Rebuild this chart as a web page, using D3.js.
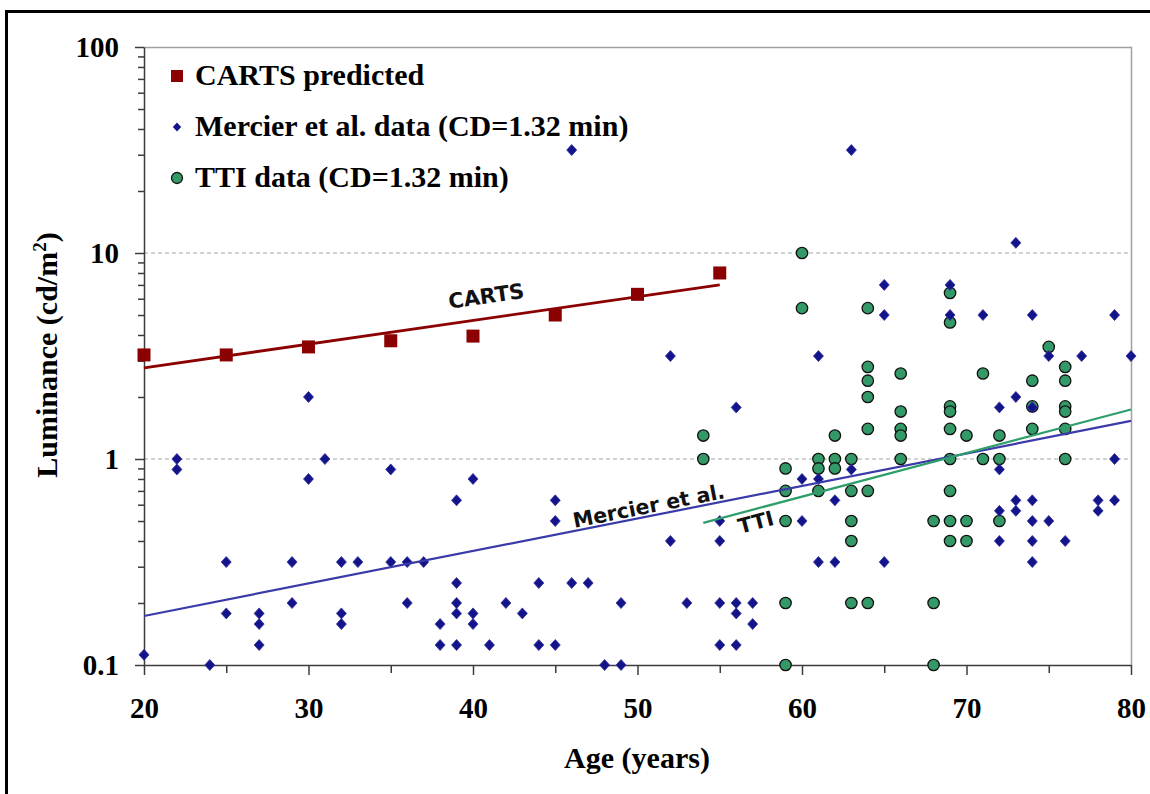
<!DOCTYPE html>
<html>
<head>
<meta charset="utf-8">
<script src="https://cdn.jsdelivr.net/npm/d3@7"></script>
<style>
  body { margin: 0; background: #fff; }
  svg { display: block; }
</style>
</head>
<body>
<svg id="chart"></svg>
<script>
    var width = 1150,
        height = 794;

// data

    var cartsData = [[20,3.2],[25,3.2],[30,3.5],[35,3.75],[40,3.95],[45,5.0],[50,6.3],[55,8.0]];

    var mercierData = [
        [20,0.112],[22,1.0],[22,0.89],[24,0.1],[25,0.316],[25,0.178],
        [27,0.178],[27,0.158],[27,0.125],[29,0.316],[29,0.2],[30,2.0],[30,0.8],
        [31,1.0],[32,0.316],[32,0.178],[32,0.158],[33,0.316],[35,0.89],[35,0.316],
        [36,0.316],[36,0.2],[37,0.316],[38,0.158],[38,0.125],
        [39,0.63],[39,0.25],[39,0.2],[39,0.178],[39,0.125],
        [40,0.8],[40,0.178],[40,0.158],[41,0.125],[42,0.2],[43,0.178],
        [44,0.25],[44,0.125],[45,0.63],[45,0.5],[45,0.125],[46,31.6],[46,0.25],
        [47,0.25],[48,0.1],[49,0.2],[49,0.1],[52,3.16],[52,0.4],[53,0.2],
        [55,0.5],[55,0.4],[55,0.2],[55,0.125],[56,1.78],[56,0.2],[56,0.178],[56,0.125],
        [57,0.2],[57,0.158],[60,0.8],[60,0.5],[61,3.16],[61,0.8],[61,0.316],
        [62,0.63],[62,0.316],[63,31.6],[63,0.89],[65,7.0],[65,5.0],[65,0.316],
        [69,7.0],[69,5.0],[71,5.0],[72,1.78],[72,0.89],[72,0.56],[72,0.4],
        [73,11.2],[73,2.0],[73,0.63],[73,0.56],
        [74,5.0],[74,1.78],[74,0.63],[74,0.5],[74,0.4],[74,0.316],
        [75,3.16],[75,0.5],[76,0.4],[77,3.16],[78,0.63],[78,0.56],
        [79,5.0],[79,1.0],[79,0.63],[80,3.16]
    ];

    var ttiData = [
        [54,1.3],[54,1.0],[59,0.9],[59,0.7],[59,0.5],[59,0.2],[59,0.1],
        [60,10],[60,5.4],[61,1.0],[61,0.9],[61,0.7],[62,1.3],[62,1.0],[62,0.9],
        [63,1.0],[63,0.7],[63,0.5],[63,0.4],[63,0.2],
        [64,5.4],[64,2.8],[64,2.4],[64,2.0],[64,1.4],[64,0.7],[64,0.2],
        [66,2.6],[66,1.7],[66,1.4],[66,1.3],[66,1.0],[68,0.5],[68,0.2],[68,0.1],
        [69,6.4],[69,4.6],[69,1.8],[69,1.7],[69,1.4],[69,1.0],[69,0.7],[69,0.5],[69,0.4],
        [70,1.3],[70,0.5],[70,0.4],[71,2.6],[71,1.0],[72,1.3],[72,1.0],[72,0.5],
        [74,2.4],[74,1.8],[74,1.4],[75,3.5],
        [76,2.8],[76,2.4],[76,1.8],[76,1.7],[76,1.4],[76,1.0]
    ];

    // exponential trend lines (straight on the log axis): [age, luminance] at each end
    var trendNames = ["CARTS", "Mercier et al.", "TTI"];
    var trendStart = [[20,2.77],[20,0.173],[54,0.49]];
    var trendEnd   = [[55,7.0],[80,1.53],[80,1.74]];
    var trendLabelAge = [41.0, 50.8, 57.0];

    var legendLabels = ["CARTS predicted", "Mercier et al. data (CD=1.32 min)", "TTI data (CD=1.32 min)"];

    var xTicks = [20,30,40,50,60,70,80];
    var xMinorTicks = [25,35,45,55,65,75];
    var yTicks = [0.1,1,10,100];

// colours
    var cartsColor = "#8b0000",
        mercierColor = "#14148a",
        mercierLine = "#3a3aa8",
        ttiFill = "#339966",
        ttiLine = "#2e9e6a";

    var margin = {top: 47, right: 19, bottom: 129, left: 144};
    var plotW = width - margin.left - margin.right,
        plotH = height - margin.top - margin.bottom;

    var svg = d3.select("#chart").attr("width", width).attr("height", height);

    // outer black frame (runs off the right and bottom of the picture)
    svg.append("rect")
        .attr("x", 6.5).attr("y", 11.5)
        .attr("width", width + 20).attr("height", height + 20)
        .attr("fill", "none").attr("stroke", "#000").attr("stroke-width", 3);

    var x = d3.scaleLinear().domain([20, 80]).range([0, plotW]);
    var y = d3.scaleLog().domain([0.1, 100]).range([plotH, 0]);

    var g = svg.append("g").attr("transform", "translate(" + margin.left + "," + margin.top + ")");

    var serif = "'Liberation Serif','Times New Roman',serif";

    // plot area border (top + right) and dashed gridlines
    g.append("path")
        .attr("d", "M0,0.5H" + (plotW + 0.5) + "V" + plotH)
        .attr("fill", "none").attr("stroke", "#a0a0a0").attr("stroke-width", 1.5);

    g.selectAll(".grid").data([1, 10]).enter().append("line")
        .attr("x1", 0).attr("x2", plotW)
        .attr("y1", function (d) { return y(d); })
        .attr("y2", function (d) { return y(d); })
        .attr("stroke", "#a8a8a8").attr("stroke-width", 1.2)
        .attr("stroke-dasharray", "4,3");

    // minor ticks
    var yMinor = [];
    [0.1, 1, 10].forEach(function (p) {
        for (var k = 2; k <= 9; k++) yMinor.push(p * k);
    });
    g.append("g")
        .call(d3.axisLeft(y).tickValues(yMinor).tickSize(6).tickFormat(""))
        .call(function (a) { a.select(".domain").remove(); });
    g.append("g")
        .attr("transform", "translate(0," + plotH + ")")
        .call(d3.axisBottom(x).tickValues(xMinorTicks).tickSize(8).tickFormat(""))
        .call(function (a) { a.select(".domain").remove(); });

    // major axes
    var xAxis = g.append("g")
        .attr("transform", "translate(0," + plotH + ")")
        .call(d3.axisBottom(x).tickValues(xTicks).tickSize(10).tickSizeOuter(0).tickFormat(d3.format("d")));
    xAxis.selectAll("text")
        .attr("y", 53).attr("dy", 0);

    var yAxis = g.append("g")
        .call(d3.axisLeft(y).tickValues(yTicks).tickSize(9).tickSizeOuter(0)
            .tickFormat(function (d) { return d < 1 ? "0.1" : d3.format("d")(d); }));
    yAxis.selectAll("text")
        .attr("x", -25).attr("dy", "0.34em");

    svg.selectAll(".tick line, .domain")
        .attr("stroke", "#3c3c3c").attr("stroke-width", 1.5);
    svg.selectAll(".tick text")
        .attr("fill", "#000")
        .style("font-family", serif)
        .style("font-weight", "bold")
        .style("font-size", "29px");

    // axis titles
    svg.append("text")
        .attr("x", 637).attr("y", 768)
        .attr("text-anchor", "middle")
        .style("font-family", serif).style("font-weight", "bold").style("font-size", "30px")
        .text("Age (years)");

    var yTitle = svg.append("text")
        .attr("transform", "translate(57,355) rotate(-90)")
        .attr("text-anchor", "middle")
        .style("font-family", serif).style("font-weight", "bold").style("font-size", "30px");
    yTitle.append("tspan").text("Luminance (cd/m");
    yTitle.append("tspan").attr("dy", -11).style("font-size", "19px").text("2");
    yTitle.append("tspan").attr("dy", 11).text(")");

    // markers
    var diamond = "M0,-5.5L5,0L0,5.5L-5,0Z";

    g.selectAll(".tti").data(ttiData).enter().append("circle")
        .attr("cx", function (d) { return x(d[0]); })
        .attr("cy", function (d) { return y(d[1]); })
        .attr("r", 5.7)
        .attr("fill", ttiFill).attr("stroke", "#111").attr("stroke-width", 1.3);

    g.selectAll(".mercier").data(mercierData).enter().append("path")
        .attr("d", diamond)
        .attr("transform", function (d) { return "translate(" + x(d[0]) + "," + y(d[1]) + ")"; })
        .attr("fill", mercierColor).attr("stroke", "#2e2e9e").attr("stroke-width", 0.8);

    g.selectAll(".carts").data(cartsData).enter().append("rect")
        .attr("x", function (d) { return x(d[0]) - 6.5; })
        .attr("y", function (d) { return y(d[1]) - 6.5; })
        .attr("width", 13).attr("height", 13)
        .attr("fill", cartsColor);

    // trend lines with their labels
    var trendColors = [cartsColor, mercierLine, ttiLine];
    var trendWidths = [2.8, 2.2, 2.2];
    var labelShift = [-15, -3, 20];

    trendNames.forEach(function (name, i) {
        var x0 = x(trendStart[i][0]), y0 = y(trendStart[i][1]),
            x1 = x(trendEnd[i][0]), y1 = y(trendEnd[i][1]);
        g.append("line")
            .attr("x1", x0).attr("y1", y0).attr("x2", x1).attr("y2", y1)
            .attr("stroke", trendColors[i]).attr("stroke-width", trendWidths[i]);

        var angle = Math.atan2(y1 - y0, x1 - x0) * 180 / Math.PI;
        var lx = x(trendLabelAge[i]);
        var ly = y0 + (y1 - y0) * (lx - x0) / (x1 - x0);
        g.append("text")
            .attr("transform", "translate(" + lx + "," + ly + ") rotate(" + angle + ")")
            .attr("y", labelShift[i])
            .attr("text-anchor", "middle")
            .style("font-family", "'DejaVu Sans',Verdana,sans-serif")
            .style("font-weight", "bold")
            .style("font-size", i === 0 ? "21px" : "20.5px")
            .attr("fill", "#111")
            .text(name);
    });

    // legend
    var legend = svg.append("g");
    var legendY = [76, 127, 178];
    legendLabels.forEach(function (t, i) {
        var row = legend.append("g").attr("transform", "translate(177," + legendY[i] + ")");
        if (i === 0) {
            row.append("rect").attr("x", -6).attr("y", -6).attr("width", 12).attr("height", 12)
                .attr("fill", cartsColor);
        } else if (i === 1) {
            row.append("path").attr("d", "M0,-4.5L4.2,0L0,4.5L-4.2,0Z").attr("fill", mercierColor);
        } else {
            row.append("circle").attr("r", 5.5)
                .attr("fill", ttiFill).attr("stroke", "#111").attr("stroke-width", 1.3);
        }
        row.append("text")
            .attr("x", 18).attr("y", 9)
            .style("font-family", serif).style("font-weight", "bold").style("font-size", "30px")
            .text(t);
    });
</script>
</body>
</html>
